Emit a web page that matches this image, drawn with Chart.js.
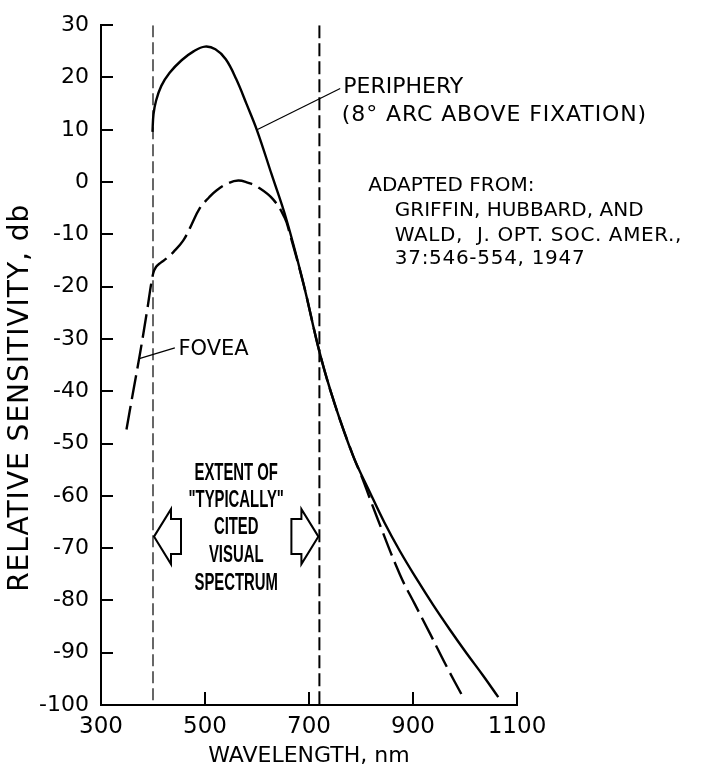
<!DOCTYPE html>
<html>
<head>
<meta charset="utf-8">
<script src="https://cdn.jsdelivr.net/npm/chart.js@4/dist/chart.umd.min.js"></script>
<style>
html,body{margin:0;padding:0;background:#fff;}
canvas{display:block;}
</style>
</head>
<body>
<canvas id="c" width="706" height="766"></canvas>
<script>
// ---- data ----
const peripheryWavelengths = [399, 401, 406, 416, 432, 455, 478, 500, 520, 540, 560, 580, 600, 628, 657, 689, 721, 750, 785, 817, 845, 875, 907, 939, 971, 1003, 1035, 1064];
const peripheryDb          = [9.6, 13.0, 15.6, 18.4, 20.9, 23.3, 25.0, 25.9, 25.4, 23.5, 19.7, 14.9, 9.9, 1.5, -7.3, -19.3, -32.8, -42.6, -52.4, -59.3, -65.1, -70.6, -75.9, -80.9, -85.6, -90.1, -94.4, -98.5];

const foveaWavelengths = [349, 362, 375, 388, 400, 406, 415, 426, 440, 458, 471, 490, 508, 522, 545, 564, 582, 599, 631, 654, 662, 689, 721, 750, 785, 800, 830, 875, 904, 933, 965, 994];
const foveaDb          = [-47.3, -40.0, -32.8, -25.0, -17.6, -16.2, -15.4, -14.6, -13.3, -11.2, -8.8, -5.0, -2.9, -1.6, -0.2, 0.3, -0.1, -0.8, -3.3, -7.0, -9.5, -19.3, -32.8, -42.6, -52.4, -56.0, -63.9, -75.1, -80.8, -86.4, -92.7, -98.1];

const spectrumLimits = [400, 720];           // "typically cited" visual spectrum, nm
const xRange = [300, 1100];
const xStep = 200;
const yRange = [-100, 30];
const yStep = 10;

const peripheryLabel = ['PERIPHERY', '(8\u00B0 ARC ABOVE FIXATION)'];
const sourceLabel = ['ADAPTED FROM:', 'GRIFFIN, HUBBARD, AND', 'WALD,  J. OPT. SOC. AMER.,', '37:546-554, 1947'];
const foveaLabel = 'FOVEA';
const extentLabel = ['EXTENT OF', '"TYPICALLY"', 'CITED', 'VISUAL', 'SPECTRUM'];
const xTitle = 'WAVELENGTH, nm';
const yTitle = 'RELATIVE SENSITIVITY, db';

// ---- chart ----
const FONT = '"DejaVu Sans", "Liberation Sans", Arial, sans-serif';
const toPoints = (xs, ys) => xs.map((x, i) => ({x: x, y: ys[i]}));

const annotationPlugin = {
  id: 'annotations',
  afterDraw(chart) {
    const ctx = chart.ctx, xs = chart.scales.x, ys = chart.scales.y, a = chart.chartArea;
    const X = v => xs.getPixelForValue(v), Y = v => ys.getPixelForValue(v);
    ctx.save();
    ctx.strokeStyle = '#000';
    ctx.fillStyle = '#000';
    ctx.lineCap = 'butt';

    // inward tick marks
    ctx.lineWidth = 2;
    ys.ticks.forEach(t => {
      if (t.value === yRange[0]) return;
      const py = Math.round(Y(t.value));
      ctx.beginPath(); ctx.moveTo(a.left, py); ctx.lineTo(a.left + 12, py); ctx.stroke();
    });
    xs.ticks.forEach(t => {
      if (t.value === xRange[0]) return;
      const px = Math.round(X(t.value));
      ctx.beginPath(); ctx.moveTo(px, a.bottom); ctx.lineTo(px, a.bottom - 13); ctx.stroke();
    });

    // text helper (y given as cap-centre)
    const text = (s, px, py, size, spacing) => {
      ctx.font = size + 'px ' + FONT;
      ctx.letterSpacing = (spacing || 0) + 'px';
      ctx.textAlign = 'left';
      ctx.textBaseline = 'alphabetic';
      ctx.fillText(s, px, py + size * 0.365);
      ctx.letterSpacing = '0px';
    };

    // periphery label + leader
    text(peripheryLabel[0], X(766), Y(18.6), 22);
    text(peripheryLabel[1], X(763), Y(13.2), 22, 0.9);
    ctx.lineWidth = 1.2;
    ctx.beginPath(); ctx.moveTo(X(600), Y(10.0)); ctx.lineTo(X(760), Y(17.9)); ctx.stroke();

    // source block
    text(sourceLabel[0], X(814), Y(-0.3), 20);
    text(sourceLabel[1], X(865), Y(-5.1), 20);
    text(sourceLabel[2], X(865), Y(-9.8), 20, 0.6);
    text(sourceLabel[3], X(865), Y(-14.2), 20, 0.7);

    // fovea label + leader
    text(foveaLabel, X(449), Y(-31.6), 21);
    ctx.lineWidth = 1.2;
    ctx.beginPath(); ctx.moveTo(X(372), Y(-33.8)); ctx.lineTo(X(442), Y(-31.7)); ctx.stroke();

    // extent-of-spectrum text (bold, condensed)
    const cx = X((spectrumLimits[0] + spectrumLimits[1]) / 2);
    const extentY = [-55.4, -60.4, -65.6, -71.0, -76.3];
    ctx.font = 'bold 24px "Liberation Sans", Arial, sans-serif';
    ctx.textAlign = 'center';
    ctx.textBaseline = 'alphabetic';
    extentLabel.forEach((s, i) => {
      ctx.save();
      ctx.translate(cx, Y(extentY[i]) + 8.6);
      ctx.scale(0.62, 1);
      ctx.fillText(s, 0, 0);
      ctx.restore();
    });

    // hollow block arrows pointing at the spectrum limits
    const ay = Y(-67.8);
    const arrow = (tipX, dir) => {
      const hl = 17, hh = 27.5, sh = 17.5, sl = 10;
      ctx.beginPath();
      ctx.moveTo(tipX, ay);
      ctx.lineTo(tipX + dir * hl, ay - hh);
      ctx.lineTo(tipX + dir * hl, ay - sh);
      ctx.lineTo(tipX + dir * (hl + sl), ay - sh);
      ctx.lineTo(tipX + dir * (hl + sl), ay + sh);
      ctx.lineTo(tipX + dir * hl, ay + sh);
      ctx.lineTo(tipX + dir * hl, ay + hh);
      ctx.closePath();
      ctx.lineWidth = 2;
      ctx.lineJoin = 'miter';
      ctx.stroke();
    };
    arrow(X(spectrumLimits[0]) + 1, 1);
    arrow(X(spectrumLimits[1]) - 1, -1);

    // axis titles
    ctx.font = '22px ' + FONT;
    ctx.textAlign = 'center';
    ctx.textBaseline = 'alphabetic';
    ctx.fillText(xTitle, (a.left + a.right) / 2, 762);

    ctx.save();
    ctx.translate(28, a.top + (a.bottom - a.top) * 0.548);
    ctx.rotate(-Math.PI / 2);
    ctx.font = '28px ' + FONT;
    ctx.letterSpacing = '1px';
    ctx.textAlign = 'center';
    ctx.textBaseline = 'alphabetic';
    ctx.fillText(yTitle, 0, 0);
    ctx.restore();

    ctx.restore();
  }
};

new Chart(document.getElementById('c'), {
  type: 'line',
  data: {
    datasets: [
      {
        label: 'Periphery (8\u00B0 arc above fixation)',
        data: toPoints(peripheryWavelengths, peripheryDb),
        borderColor: '#000', borderWidth: 2.4, pointRadius: 0,
        tension: 0.4, fill: false
      },
      {
        label: 'Fovea',
        data: toPoints(foveaWavelengths, foveaDb),
        borderColor: '#000', borderWidth: 2.4, pointRadius: 0, borderDash: [24, 7],
        tension: 0.4, fill: false
      },
      {
        label: 'Spectrum limit (short)',
        data: [{x: spectrumLimits[0], y: yRange[1]}, {x: spectrumLimits[0], y: yRange[0]}],
        borderColor: '#000', borderWidth: 1.2, pointRadius: 0, borderDash: [12, 5], tension: 0
      },
      {
        label: 'Spectrum limit (long)',
        data: [{x: spectrumLimits[1], y: yRange[1]}, {x: spectrumLimits[1], y: yRange[0]}],
        borderColor: '#000', borderWidth: 2, pointRadius: 0, borderDash: [13, 5], tension: 0
      }
    ]
  },
  options: {
    responsive: false,
    animation: false,
    devicePixelRatio: 1,
    layout: { padding: { top: 18, right: 189, bottom: 0, left: 0 } },
    plugins: { legend: { display: false }, tooltip: { enabled: false }, title: { display: false } },
    scales: {
      x: {
        type: 'linear', min: xRange[0], max: xRange[1],
        ticks: { stepSize: xStep, color: '#000', padding: 8, maxRotation: 0,
                 callback: v => String(v),
                 font: { family: FONT, size: 23 } },
        grid: { display: false, drawTicks: false },
        border: { display: true, color: '#000', width: 2 },
        afterFit: s => { s.height = 61; }
      },
      y: {
        type: 'linear', min: yRange[0], max: yRange[1],
        ticks: { stepSize: yStep, color: '#000', padding: 12,
                 callback: v => String(v),
                 font: { family: FONT, size: 22 } },
        grid: { display: false, drawTicks: false },
        border: { display: true, color: '#000', width: 2 },
        afterFit: s => { s.width = 101; }
      }
    }
  },
  plugins: [annotationPlugin]
});
</script>
</body>
</html>
